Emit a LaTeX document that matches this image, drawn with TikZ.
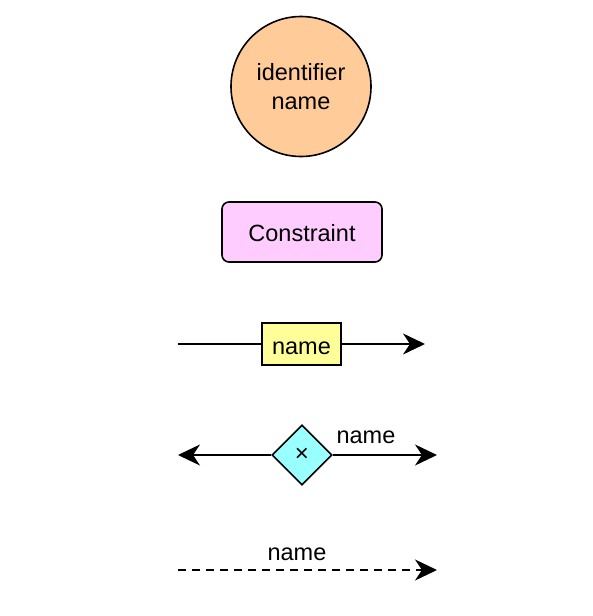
\documentclass[tikz,border=0pt]{standalone}
\usepackage{fontspec}
\setmainfont{Liberation Sans}
\usetikzlibrary{shapes.geometric,arrows.meta}
\definecolor{peach}{HTML}{FFCC99}
\definecolor{pinkc}{HTML}{FFCCFF}
\definecolor{yelc}{HTML}{FFFF99}
\definecolor{cyanc}{HTML}{99FFFF}
\tikzset{
  txt/.style={font=\fontsize{23.5}{29}\selectfont, text=black},
  shp/.style={draw=black, line width=1.6pt, txt},
  conn/.style={draw=black, line width=1.8pt},
  tip/.style={-{Stealth[length=22pt,width=21pt,inset=7pt]}},
  lbl/.style={txt, inner sep=0pt}
}
\begin{document}
\begin{tikzpicture}[x=1pt,y=-1pt]
\useasboundingbox (0,0) rectangle (592,616);
% entity circle
\node[shp, circle, fill=peach, minimum size=140pt, inner sep=0pt, align=center] (ent) at (301,86.5) {identifier\\name};
% constraint
\node[shp, rectangle, rounded corners=7pt, fill=pinkc, minimum width=160pt, minimum height=60pt, inner sep=0pt, text height=19.5pt, text depth=0pt] (con) at (302,232) {Constraint};
% relation box line
\coordinate (s1) at (178,344);
\coordinate (e1) at (425,344);
\node[shp, rectangle, fill=yelc, minimum width=79pt, minimum height=42pt, inner sep=0pt, text height=20pt, text depth=0pt] (rel) at (301.5,344) {name};
\draw[conn] (s1) -- (rel.west);
\draw[conn, tip] (rel.east) -- (e1);
% diamond line
\coordinate (s2) at (178,455);
\coordinate (e2) at (437,455);
\node[shp, diamond, fill=cyanc, minimum width=60pt, minimum height=60pt, inner sep=0pt, font=\fontsize{24}{24}\selectfont] (dia) at (302,455) {×};
\draw[conn, tip] (dia.west) -- (s2);
\draw[conn, tip] (dia.east) -- (e2);
\node[lbl] (lb2) at (366,437.5) {name};
% dashed line
\coordinate (s3) at (178,570);
\coordinate (e3) at (437,570);
\draw[conn, tip, dash pattern=on 8pt off 6pt] (s3) -- (e3);
\node[lbl] (lb3) at (297,554) {name};
\end{tikzpicture}
\end{document}
